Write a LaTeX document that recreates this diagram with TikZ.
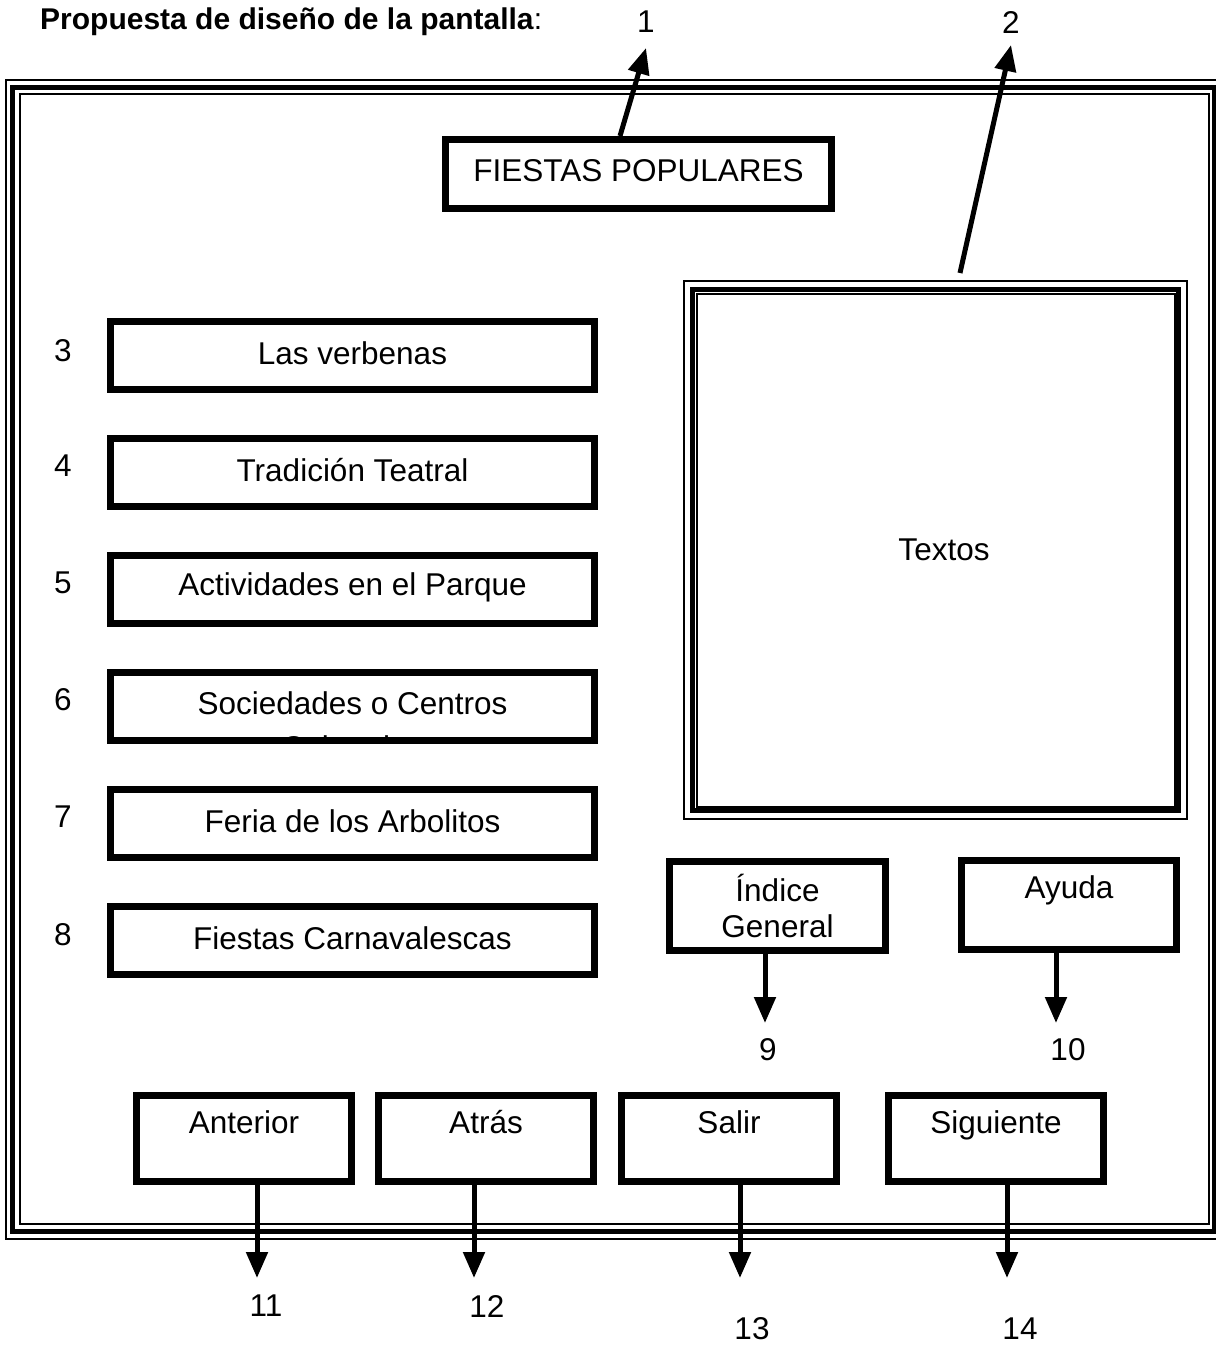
\documentclass[tikz,border=0pt]{standalone}
\usepackage{fontspec}
\setmainfont{Liberation Sans}
\usetikzlibrary{arrows.meta}
\begin{document}
\begin{tikzpicture}[x=1pt,y=-1pt,
  every node/.style={font=\fontsize{31.5}{36}\selectfont, inner sep=0pt},
  btn/.style={draw, line width=7pt, rectangle},
  menubtn/.style={btn, minimum width=484pt, minimum height=68pt},
  navbtn/.style={btn, minimum width=215pt, minimum height=86pt},
  toptext/.style={anchor=base, yshift=-41pt},
  frthin/.style={line width=2pt},
  frthick/.style={line width=5pt},
  ptr/.style={line width=5pt, -{Triangle[width=21pt,length=26pt]}},
]
\useasboundingbox (0,0) rectangle (1216,1345);

% heading
\node[anchor=west, font=\fontsize{30}{36}\selectfont] (title) at (40,22) {\textbf{Propuesta de diseño de la pantalla}:};

% screen frame (triple line)
\begin{scope}
  \clip (0,0) rectangle (1216,1345);
  \draw[frthin]  (6,80)      rectangle (1221,1239);
  \draw[frthick] (12.5,87)   rectangle (1214.5,1231.5);
  \draw[frthin]  (19.5,93.5) rectangle (1208.5,1224);
\end{scope}

% title box
\node[btn, minimum width=386pt, minimum height=69pt,
      label={[yshift=3pt]center:FIESTAS POPULARES}] (fp) at (638.5,174) {};

% text area (triple line)
\node[draw, line width=5pt, minimum width=486pt, minimum height=521pt,
      label={[xshift=8.5pt]center:Textos}] (textos) at (935.5,550) {};
\draw[frthin] ([shift={(-6,-6)}]textos.north west) rectangle ([shift={(6,6)}]textos.south east);
\draw[frthin] ([shift={(6.5,6.5)}]textos.north west) rectangle ([shift={(-6.5,-6.5)}]textos.south east);

% menu buttons
\node[menubtn, label={[yshift=2pt]center:Las verbenas}]             (m3) at (352.5,355)   {};
\node[menubtn, label={[yshift=2pt]center:Tradición Teatral}]        (m4) at (352.5,472.5) {};
\node[menubtn, label={[yshift=2pt]center:Actividades en el Parque}] (m5) at (352.5,589.5) {};
\begin{scope}
  \clip (114,676) rectangle (591,737.5);
  \node[align=center] (m6t) at (352.5,725) {Sociedades o Centros\\[8pt]Culturales};
\end{scope}
\node[menubtn] (m6) at (352.5,706.5) {};
\node[menubtn, label={[yshift=2pt]center:Feria de los Arbolitos}]   (m7) at (352.5,823.5) {};
\node[menubtn, label={[yshift=2pt]center:Fiestas Carnavalescas}]    (m8) at (352.5,940.5) {};

\node (n3) at (63,351) {3};
\node (n4) at (63,466) {4};
\node (n5) at (63,583) {5};
\node (n6) at (63,700) {6};
\node (n7) at (63,817) {7};
\node (n8) at (63,935) {8};

% index and help
\node[btn, minimum width=216pt, minimum height=89pt, align=center] (idx) at (777.5,906) {Índice\\General};
\node[btn, minimum width=215pt, minimum height=89pt,
      label={[toptext]north:Ayuda}] (ayu) at (1069,905) {};

% navigation buttons
\node[navbtn, label={[toptext]north:Anterior}]  (ant) at (244,1138.5) {};
\node[navbtn, label={[toptext]north:Atrás}]     (atr) at (486,1138.5) {};
\node[navbtn, label={[toptext]north:Salir}]     (sal) at (729,1138.5) {};
\node[navbtn, label={[toptext]north:Siguiente}] (sig) at (996,1138.5) {};

% reference numbers
\node (n1)  at (646,22)   {1};
\node (n2)  at (1011,22)  {2};
\node (n9)  at (768,1050) {9};
\node (n10) at (1068,1050) {10};
\node (n11) at (266,1306) {11};
\node (n12) at (487,1306) {12};
\node (n13) at (752,1329) {13};
\node (n14) at (1020,1329) {14};

\coordinate (t1)  at (646,48);
\coordinate (s2)  at (960,273);
\coordinate (t2)  at (1011,45);
\coordinate (t9)  at (765,1023);
\coordinate (t10) at (1056,1023);
\coordinate (t11) at (257,1278);
\coordinate (t12) at (474,1278);
\coordinate (t13) at (740,1278);
\coordinate (t14) at (1007,1278);

% pointers
\draw[ptr] ([xshift=-18.5pt]fp.north) -- (t1);
\draw[ptr] (s2) -- (t2);
\draw[ptr] ([xshift=-12.5pt]idx.south) -- (t9);
\draw[ptr] ([xshift=-13pt]ayu.south) -- (t10);
\draw[ptr] ([xshift=13pt]ant.south) -- (t11);
\draw[ptr] ([xshift=-12pt]atr.south) -- (t12);
\draw[ptr] ([xshift=11pt]sal.south) -- (t13);
\draw[ptr] ([xshift=11pt]sig.south) -- (t14);
\end{tikzpicture}
\end{document}
